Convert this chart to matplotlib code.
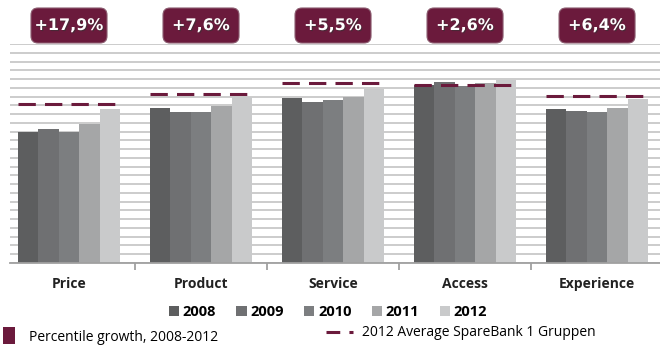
import matplotlib.pyplot as plt
import matplotlib.patheffects as pe
from matplotlib.patches import FancyBboxPatch, Patch
from matplotlib.lines import Line2D
import numpy as np

# data
categories = ['Price', 'Product', 'Service', 'Access', 'Experience']
years = ['2008', '2009', '2010', '2011', '2012']
v2008 = [59.7, 70.6, 75.2, 81.3, 70.5]
v2009 = [61.3, 69.1, 73.7, 82.8, 69.3]
v2010 = [59.7, 69.1, 74.4, 80.8, 69.0]
v2011 = [63.5, 71.7, 75.9, 82.1, 70.8]
v2012 = [70.4, 76.0, 79.3, 83.4, 75.0]
avg_2012 = [72.6, 77.0, 82.3, 81.3, 76.3]

colors = ['#5d5e5f', '#6f7072', '#7c7e80', '#a5a6a7', '#c9cacb']
maroon = '#6b1a3c'

plt.rcParams['font.family'] = ['Open Sans', 'DejaVu Sans']

fig = plt.figure(figsize=(6.6, 3.46), dpi=100)
ax = fig.add_axes([10/660, 83/346, 650/660, 219/346])

x = np.arange(len(categories))
w = 0.155
series = [v2008, v2009, v2010, v2011, v2012]
bars = []
for j, vals in enumerate(series):
    b = ax.bar(x + (j - 2) * w, vals, w, color=colors[j], label=years[j], zorder=2)
    bars.append(b)

# 2012 average as a dashed line over each group
for i, a in enumerate(avg_2012):
    ax.hlines(a, x[i] - 2.5 * w, x[i] + 2.5 * w, color=maroon, lw=2.2,
              linestyle=(0, (5.67, 3.0)), zorder=3)

ax.set_ylim(0, 100)
ax.set_xlim(-0.447, 4.477)
ax.set_yticks(np.arange(0, 101, 4))
ax.yaxis.grid(True, color='#c8c8c8', lw=1.3, zorder=0)
ax.set_axisbelow(True)
ax.tick_params(axis='y', left=False, labelleft=False)
for s in ['top', 'left', 'right']:
    ax.spines[s].set_visible(False)
ax.spines['bottom'].set_color('#a0a0a0')
ax.spines['bottom'].set_linewidth(1.3)

ax.set_xticks(x)
ax.set_xticklabels(categories, fontsize=10, fontweight='bold', color='#222222')
ax.tick_params(axis='x', which='major', length=0, pad=10)
ax.set_xticks(x[:-1] + 0.5, minor=True)
ax.tick_params(axis='x', which='minor', length=5, color='#a0a0a0', width=1.3)

# growth boxes above each group
fig.canvas.draw()
top_in = ax.transAxes.transform((0, 1))[1] / fig.dpi
for i in range(len(categories)):
    growth = (v2012[i] / v2008[i] - 1) * 100
    cx = ax.transData.transform((x[i], 0))[0] / fig.dpi
    bw, bh = 0.76, 0.35
    box = FancyBboxPatch((cx - bw / 2, top_in + 0.01), bw, bh,
                         boxstyle='round,pad=0,rounding_size=0.07',
                         transform=fig.dpi_scale_trans, facecolor=maroon,
                         edgecolor='#8a5a6e', lw=0.8, clip_on=False)
    fig.add_artist(box)
    t = fig.text(cx / 6.6, (top_in + 0.01 + bh / 2) / 3.46,
                 '+' + f'{growth:.1f}'.replace('.', ',') + '%',
                 ha='center', va='center', color='white', fontsize=11.5,
                 fontweight='bold', family='DejaVu Sans')
    t.set_path_effects([pe.withSimplePatchShadow(offset=(0.8, -0.8),
                                                 shadow_rgbFace='#333333', alpha=0.6)])

# year legend
fig.legend(handles=bars, labels=years, loc='center', bbox_to_anchor=(328/660, 1 - 312/346),
           ncol=5, frameon=False, prop={'weight': 'bold', 'size': 10.5},
           handlelength=0.7, handleheight=0.7, handletextpad=0.25, columnspacing=1.4)

# lower legend row
fig.legend(handles=[Patch(facecolor=maroon)], labels=['Percentile growth, 2008-2012'],
           loc='center left', bbox_to_anchor=(-0.015, 1 - 336/346), frameon=False,
           fontsize=10, handlelength=0.9, handleheight=1.5, handletextpad=1.0)
fig.legend(handles=[Line2D([], [], color=maroon, lw=2.2, linestyle=(0, (4.5, 3.0)))],
           labels=['2012 Average SpareBank 1 Gruppen'],
           loc='center left', bbox_to_anchor=(313/660, 1 - 333/346), frameon=False,
           fontsize=10, handlelength=2.0, handletextpad=0.6)

plt.savefig('out.png', dpi=100)
